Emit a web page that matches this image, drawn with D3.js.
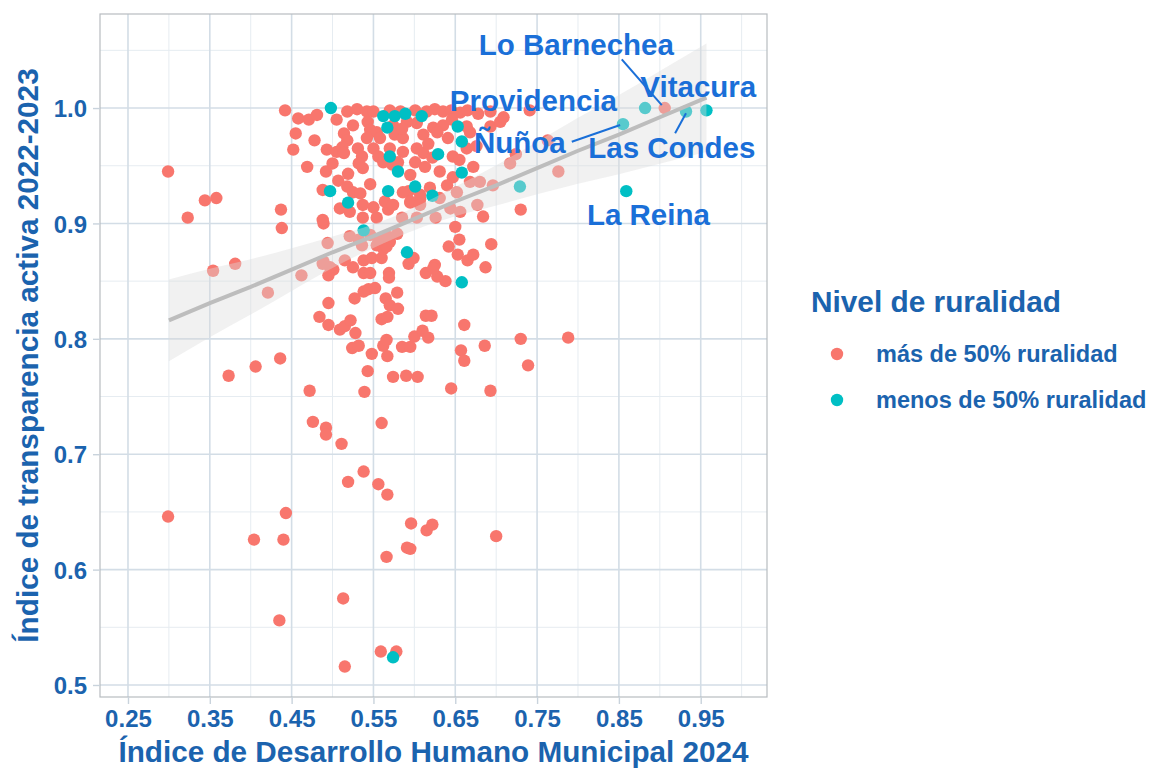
<!DOCTYPE html>
<html><head><meta charset="utf-8">
<script src="https://cdn.jsdelivr.net/npm/d3@7"></script>
<style>body{margin:0;background:#fff}svg{display:block}text{font-family:"Liberation Sans",Arial,sans-serif;font-weight:bold}</style>
</head><body>
<svg id="chart" width="1151" height="768"></svg>
<script>
// ---- data ----
const xTicks = [0.25,0.35,0.45,0.55,0.65,0.75,0.85,0.95];
const xMinor = [0.30,0.40,0.50,0.60,0.70,0.80,0.90,1.00];
const yTicks = [0.5,0.6,0.7,0.8,0.9,1.0];
const yMinor = [0.55,0.65,0.75,0.85,0.95,1.05];
const xLabel = "Índice de Desarrollo Humano Municipal 2024";
const yLabel = "Índice de transparencia activa 2022-2023";
const legendTitle = "Nivel de ruralidad";
const categories = ["más de 50% ruralidad","menos de 50% ruralidad"];
const catColors = ["#F8766D","#00BFC4"];

// más de 50% ruralidad  [IDHM, transparencia]
const masRural = [
[0.299,0.945],[0.299,0.646],[0.323,0.905],[0.344,0.920],[0.358,0.922],[0.354,0.859],[0.381,0.865],[0.373,0.768],[0.406,0.776],[0.436,0.783],[0.421,0.840],[0.462,0.855],[0.437,0.912],[0.438,0.896],
[0.443,0.649],[0.404,0.626],[0.440,0.626],[0.435,0.556],[0.513,0.575],[0.515,0.516],[0.559,0.529],[0.578,0.529],[0.519,0.676],[0.538,0.685],[0.556,0.674],[0.567,0.665],[0.596,0.640],[0.615,0.634],[0.622,0.639],[0.591,0.619],[0.595,0.618],[0.566,0.611],[0.700,0.629],
[0.472,0.755],[0.539,0.754],[0.543,0.772],[0.548,0.787],[0.567,0.785],[0.574,0.767],[0.590,0.768],[0.604,0.767],[0.476,0.728],[0.492,0.723],[0.492,0.717],[0.511,0.709],[0.560,0.727],[0.645,0.757],[0.693,0.755],[0.657,0.790],[0.661,0.781],[0.686,0.794],[0.730,0.800],[0.788,0.801],[0.739,0.777],
[0.524,0.792],[0.532,0.794],[0.562,0.794],[0.566,0.799],[0.585,0.793],[0.595,0.793],[0.600,0.802],[0.610,0.807],[0.617,0.801],[0.484,0.819],[0.495,0.812],[0.509,0.808],[0.515,0.811],[0.522,0.816],[0.528,0.805],[0.495,0.831],[0.527,0.835],[0.538,0.841],[0.544,0.843],[0.552,0.844],[0.565,0.835],[0.570,0.829],[0.580,0.826],[0.560,0.817],[0.567,0.819],[0.579,0.840],[0.614,0.820],[0.621,0.820],[0.661,0.812],[0.638,0.850],[0.628,0.854],[0.625,0.864],
[0.569,0.857],[0.569,0.853],[0.538,0.868],[0.548,0.870],[0.560,0.870],[0.538,0.857],[0.546,0.857],[0.525,0.862],[0.515,0.868],[0.501,0.860],[0.495,0.855],[0.488,0.865],[0.494,0.883],[0.593,0.865],[0.599,0.870],[0.614,0.857],[0.623,0.861],[0.554,0.881],[0.562,0.878],[0.570,0.884],[0.642,0.880],[0.655,0.886],[0.694,0.882],[0.653,0.873],[0.665,0.868],[0.672,0.873],[0.687,0.862],[0.489,0.900],[0.521,0.889],[0.532,0.886],[0.546,0.890],[0.558,0.884],[0.566,0.880],[0.536,0.881],[0.489,0.867],[0.497,0.862],[0.556,0.886],[0.567,0.889],[0.579,0.891],
[0.442,0.998],[0.458,0.991],[0.471,0.990],[0.481,0.994],[0.505,0.990],[0.518,0.997],[0.530,0.999],[0.542,0.997],[0.550,0.997],[0.543,0.988],[0.546,0.981],[0.554,0.979],[0.542,0.974],[0.558,0.974],[0.455,0.978],[0.514,0.978],[0.518,0.972],[0.452,0.964],[0.493,0.964],[0.505,0.962],[0.512,0.966],[0.514,0.961],[0.531,0.965],[0.536,0.958],[0.550,0.965],[0.556,0.958],[0.562,0.953],[0.573,0.951],[0.469,0.949],[0.492,0.945],[0.519,0.943],[0.537,0.948],[0.507,0.937],[0.546,0.934],[0.518,0.932],[0.525,0.927],[0.534,0.926],[0.488,0.929],[0.509,0.913],[0.521,0.910],[0.537,0.916],[0.550,0.914],[0.568,0.912],[0.488,0.903],[0.537,0.905],[0.554,0.905],[0.564,0.919],[0.574,0.916],[0.593,0.928],[0.595,0.918],[0.607,0.921],
[0.570,0.998],[0.583,0.997],[0.601,0.998],[0.615,0.997],[0.625,0.999],[0.635,0.997],[0.645,0.998],[0.656,0.996],[0.665,0.998],[0.678,0.995],[0.693,0.997],
[0.574,0.985],[0.591,0.988],[0.603,0.987],[0.623,0.983],[0.635,0.985],[0.646,0.990],[0.664,0.984],[0.693,0.984],[0.705,0.988],
[0.576,0.977],[0.586,0.974],[0.611,0.977],[0.628,0.979],[0.641,0.974],[0.668,0.979],[0.664,0.965],
[0.570,0.965],[0.586,0.962],[0.603,0.965],[0.611,0.961],[0.622,0.957],[0.601,0.953],[0.580,0.953],[0.647,0.958],
[0.595,0.942],[0.613,0.949],[0.631,0.945],[0.647,0.940],[0.672,0.949],[0.668,0.936],[0.680,0.936],
[0.586,0.927],[0.607,0.925],[0.619,0.931],[0.640,0.933],[0.652,0.927],[0.696,0.933],
[0.595,0.919],[0.607,0.916],[0.631,0.922],[0.644,0.913],[0.656,0.910],[0.677,0.916],
[0.709,0.992],[0.741,0.998],[0.763,0.972],[0.776,0.945],[0.730,0.912],[0.684,0.906],[0.717,0.952],[0.724,0.960],[0.676,0.967],[0.906,1.000],
[0.626,0.905],[0.650,0.897],[0.603,0.905],[0.585,0.905],[0.532,0.952],[0.500,0.952],[0.478,0.972],[0.525,0.985],[0.585,0.982],[0.617,0.969],[0.655,0.955]
];
// menos de 50% ruralidad
const menosRural = [
[0.498,1.000],[0.562,0.993],[0.576,0.993],[0.589,0.995],[0.609,0.993],[0.567,0.983],[0.570,0.958],[0.580,0.945],[0.629,0.960],[0.653,0.984],[0.658,0.971],[0.658,0.944],[0.601,0.932],[0.622,0.924],[0.568,0.928],[0.497,0.928],[0.519,0.918],[0.538,0.894],[0.591,0.875],[0.658,0.849],[0.574,0.524],[0.729,0.932],[0.855,0.986],[0.882,1.000],[0.932,0.997],[0.957,0.998],[0.859,0.928]
];
// linear smooth (fit and half-width of the confidence band)
const smoothX   = [0.30,0.35,0.40,0.45,0.50,0.55,0.60,0.65,0.70,0.75,0.80,0.85,0.90,0.957];
const smoothFit = [0.816,0.831,0.845,0.860,0.875,0.889,0.904,0.919,0.933,0.948,0.963,0.977,0.992,1.009];
const smoothSE  = [0.0355,0.0297,0.0240,0.0185,0.0136,0.0102,0.0098,0.0128,0.0175,0.0228,0.0285,0.0343,0.0402,0.0470];
// labelled communes: text, label position, segment start/end (data units)
const labelNames = ["Lo Barnechea","Vitacura","Providencia","Ñuñoa","Las Condes","La Reina"];
const labelX = [0.798,0.947,0.7455,0.729,0.9147,0.886];
const labelY = [1.046,1.0095,0.9974,0.961,0.9567,0.8986];
const segments = [
  [[0.8535,1.0422],[0.9024,1.0026]],
  [[0.7924,0.9708],[0.8515,0.9853]],
  [[0.9187,0.9781],[0.932,0.9954]]
];

// ---- drawing ----
const svg = d3.select("#chart");
const P = {l:100, r:767, t:14, b:697};
const x = d3.scaleLinear().domain([0.2158,1.031]).range([P.l,P.r]);
const y = d3.scaleLinear().domain([0.4896,1.0815]).range([P.b,P.t]);
const axisBlue = "#1B63AE";
const labelBlue = "#1A6FD8";

svg.append("rect").attr("x",0).attr("y",0).attr("width",1151).attr("height",768).attr("fill","#fff");
svg.append("clipPath").attr("id","pc").append("rect")
  .attr("x",P.l).attr("y",P.t).attr("width",P.r-P.l).attr("height",P.b-P.t);

const grid = svg.append("g");
grid.selectAll(".xm").data(xMinor.filter(v=>x(v)<P.r)).join("line")
  .attr("x1",d=>x(d)).attr("x2",d=>x(d)).attr("y1",P.t).attr("y2",P.b)
  .attr("stroke","#E6ECF1").attr("stroke-width",1);
grid.selectAll(".ym").data(yMinor.filter(v=>y(v)>P.t)).join("line")
  .attr("y1",d=>y(d)).attr("y2",d=>y(d)).attr("x1",P.l).attr("x2",P.r)
  .attr("stroke","#E6ECF1").attr("stroke-width",1);
grid.selectAll(".xM").data(xTicks).join("line")
  .attr("x1",d=>x(d)).attr("x2",d=>x(d)).attr("y1",P.t).attr("y2",P.b)
  .attr("stroke","#D3DDE6").attr("stroke-width",1.6);
grid.selectAll(".yM").data(yTicks).join("line")
  .attr("y1",d=>y(d)).attr("y2",d=>y(d)).attr("x1",P.l).attr("x2",P.r)
  .attr("stroke","#D3DDE6").attr("stroke-width",1.6);

const plot = svg.append("g").attr("clip-path","url(#pc)");
const R = 6.2;
plot.selectAll(".mas").data(masRural).join("circle")
  .attr("cx",d=>x(d[0])).attr("cy",d=>y(d[1])).attr("r",R).attr("fill",catColors[0]);
plot.selectAll(".men").data(menosRural).join("circle")
  .attr("cx",d=>x(d[0])).attr("cy",d=>y(d[1])).attr("r",R).attr("fill",catColors[1]);

const band = smoothX.map((v,i)=>({x:v, f:smoothFit[i], se:smoothSE[i]}));
plot.append("path").datum(band)
  .attr("d", d3.area().x(d=>x(d.x)).y0(d=>y(d.f-d.se)).y1(d=>y(d.f+d.se)).curve(d3.curveMonotoneX))
  .attr("fill","#DCDCDC").attr("fill-opacity",0.4);
plot.append("path").datum(band)
  .attr("d", d3.line().x(d=>x(d.x)).y(d=>y(d.f)))
  .attr("fill","none").attr("stroke","#BDBDBD").attr("stroke-width",4);

// labels & segments
svg.append("g").selectAll("line").data(segments).join("line")
  .attr("x1",d=>x(d[0][0])).attr("y1",d=>y(d[0][1]))
  .attr("x2",d=>x(d[1][0])).attr("y2",d=>y(d[1][1]))
  .attr("stroke",labelBlue).attr("stroke-width",2);
svg.append("g").selectAll("text").data(labelNames).join("text")
  .attr("x",(d,i)=>x(labelX[i])).attr("y",(d,i)=>y(labelY[i]))
  .attr("text-anchor","middle").attr("font-size",29.5).attr("fill",labelBlue).text(d=>d);

// panel border
svg.append("rect").attr("x",P.l).attr("y",P.t).attr("width",P.r-P.l).attr("height",P.b-P.t)
  .attr("fill","none").attr("stroke","#B8BCC0").attr("stroke-width",1.2);

// axes
const xAxis = svg.append("g").attr("transform",`translate(0,${P.b})`)
  .call(d3.axisBottom(x).tickValues(xTicks).tickFormat(d3.format(".2f")).tickSize(7).tickPadding(6));
const yAxis = svg.append("g").attr("transform",`translate(${P.l},0)`)
  .call(d3.axisLeft(y).tickValues(yTicks).tickFormat(d3.format(".1f")).tickSize(7).tickPadding(6));
[xAxis,yAxis].forEach(a=>{
  a.select(".domain").remove();
  a.selectAll(".tick line").attr("stroke","#C9D3DC").attr("stroke-width",1.4);
  a.selectAll(".tick text").attr("fill",axisBlue).attr("font-size",24)
    .style("font-family","'Liberation Sans',Arial,sans-serif").style("font-weight","bold");
});
yAxis.selectAll(".tick text").attr("dy","0.36em");

svg.append("text").attr("x",(P.l+P.r)/2).attr("y",762).attr("text-anchor","middle")
  .attr("font-size",29.7).attr("fill",axisBlue).text(xLabel);
svg.append("text").attr("transform",`translate(38,${(P.t+P.b)/2}) rotate(-90)`).attr("text-anchor","middle")
  .attr("font-size",29.7).attr("fill",axisBlue).text(yLabel);

// legend
const lg = svg.append("g");
lg.append("text").attr("x",811).attr("y",312).attr("font-size",29.8).attr("fill",axisBlue).text(legendTitle);
lg.selectAll("circle").data(categories).join("circle")
  .attr("cx",837).attr("cy",(d,i)=>354+i*46).attr("r",R).attr("fill",(d,i)=>catColors[i]);
lg.selectAll(".lt").data(categories).join("text")
  .attr("x",876).attr("y",(d,i)=>354+i*46).attr("dy","0.36em").attr("font-size",23.5)
  .attr("fill",axisBlue).text(d=>d);
</script>
</body></html>
